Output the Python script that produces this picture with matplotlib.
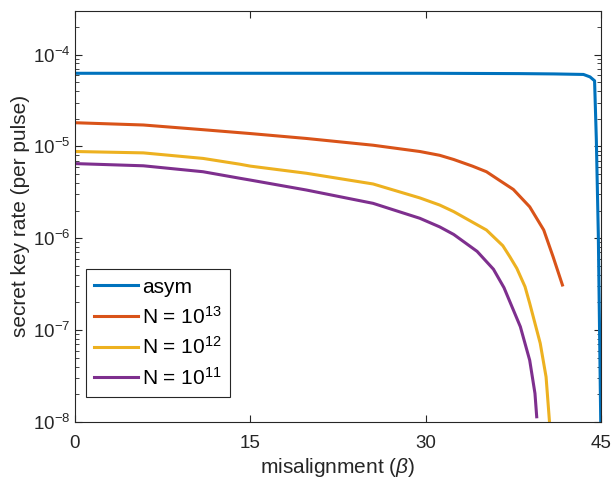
import matplotlib
matplotlib.use("Agg")
import matplotlib.pyplot as plt
from matplotlib.ticker import LogLocator, NullFormatter, FixedLocator

plt.rcParams['font.family'] = ['Liberation Sans', 'DejaVu Sans']
plt.rcParams['mathtext.fontset'] = 'custom'
plt.rcParams['mathtext.rm'] = 'Liberation Sans'
plt.rcParams['mathtext.it'] = 'Liberation Sans:italic'

# data
x_asym = [0, 10, 20, 30, 38, 41, 43.5, 44.06, 44.45, 44.6, 44.77, 45.0]
y_asym = [6.25e-5, 6.25e-5, 6.25e-5, 6.25e-5, 6.2e-5, 6.15e-5, 6.07e-5, 5.71e-5, 5.18e-5, 1.2e-5, 1.1e-6, 6e-9]

x_13 = [0, 5.85, 10.95, 15.0, 19.8, 25.5, 29.5, 31.2, 32.4, 34.0, 35.2, 36.4, 37.5, 38.9, 40.1, 40.9, 41.7]
y_13 = [1.81e-5, 1.71e-5, 1.52e-5, 1.38e-5, 1.22e-5, 1.03e-5, 8.8e-6, 8.0e-6, 7.2e-6, 6.1e-6, 5.3e-6, 4.2e-6, 3.4e-6, 2.2e-6, 1.23e-6, 6.3e-7, 3.1e-7]

x_12 = [0, 5.85, 10.95, 14.1, 15.0, 19.8, 25.5, 29.5, 31.2, 32.4, 35.2, 36.6, 37.2, 37.8, 38.5, 38.9, 39.8, 40.3, 40.6]
y_12 = [8.8e-6, 8.5e-6, 7.4e-6, 6.4e-6, 6.1e-6, 5.1e-6, 3.9e-6, 2.75e-6, 2.3e-6, 1.95e-6, 1.23e-6, 8.3e-7, 6.3e-7, 4.7e-7, 2.97e-7, 1.96e-7, 7.2e-8, 3.1e-8, 9.8e-9]

x_11 = [0, 5.85, 10.95, 14.1, 15.0, 19.8, 25.5, 29.5, 31.2, 32.4, 34.4, 35.8, 36.7, 38.1, 38.9, 39.35, 39.5]
y_11 = [6.5e-6, 6.15e-6, 5.3e-6, 4.5e-6, 4.3e-6, 3.35e-6, 2.4e-6, 1.65e-6, 1.33e-6, 1.1e-6, 7.2e-7, 4.6e-7, 2.9e-7, 1.09e-7, 4.7e-8, 2.05e-8, 1.14e-8]

labels = ['asym', r'N = 10$^{13}$', r'N = 10$^{12}$', r'N = 10$^{11}$']
colors = ['#0072BD', '#D95319', '#EDB120', '#7E2F8E']
xticks = [0, 15, 30, 45]

fig = plt.figure(figsize=(6.15, 4.83), dpi=100)
ax = fig.add_axes([75/615, 1 - 422/483, (601-75)/615, (422-10.7)/483])

for xs, ys, lab, c in zip([x_asym, x_13, x_12, x_11], [y_asym, y_13, y_12, y_11], labels, colors):
    ax.plot(xs, ys, color=c, lw=2.2, label=lab, solid_joinstyle='round')

ax.set_yscale('log')
ax.set_xlim(0, 45)
ax.set_ylim(1e-8, 3e-4)
ax.xaxis.set_major_locator(FixedLocator(xticks))
ax.yaxis.set_major_locator(LogLocator(base=10, numticks=20))
ax.yaxis.set_minor_locator(LogLocator(base=10, subs=range(2, 10), numticks=20))
ax.yaxis.set_minor_formatter(NullFormatter())

edge = '#262626'
for s in ax.spines.values():
    s.set_color(edge)
    s.set_linewidth(0.8)
ax.tick_params(which='both', direction='in', top=True, right=True, colors=edge, labelcolor='#262626')
ax.tick_params(which='major', length=5, labelsize=13.5)
ax.tick_params(which='minor', length=3)
ax.tick_params(axis='x', pad=9)

ax.set_xlabel(r'misalignment ($\beta$)', fontsize=15, color='#262626', labelpad=3)
ax.set_ylabel('secret key rate (per pulse)', fontsize=15, color='#262626', labelpad=2)

leg = ax.legend(loc='lower left', bbox_to_anchor=((86-75)/526, (422-397)/411.3), borderaxespad=0,
                fontsize=15, handlelength=2.1, handletextpad=0.2,
                fancybox=False, framealpha=1, edgecolor=edge, borderpad=0.4, labelspacing=0.42)
leg.get_frame().set_linewidth(0.8)

fig.savefig('out.png', dpi=100)
